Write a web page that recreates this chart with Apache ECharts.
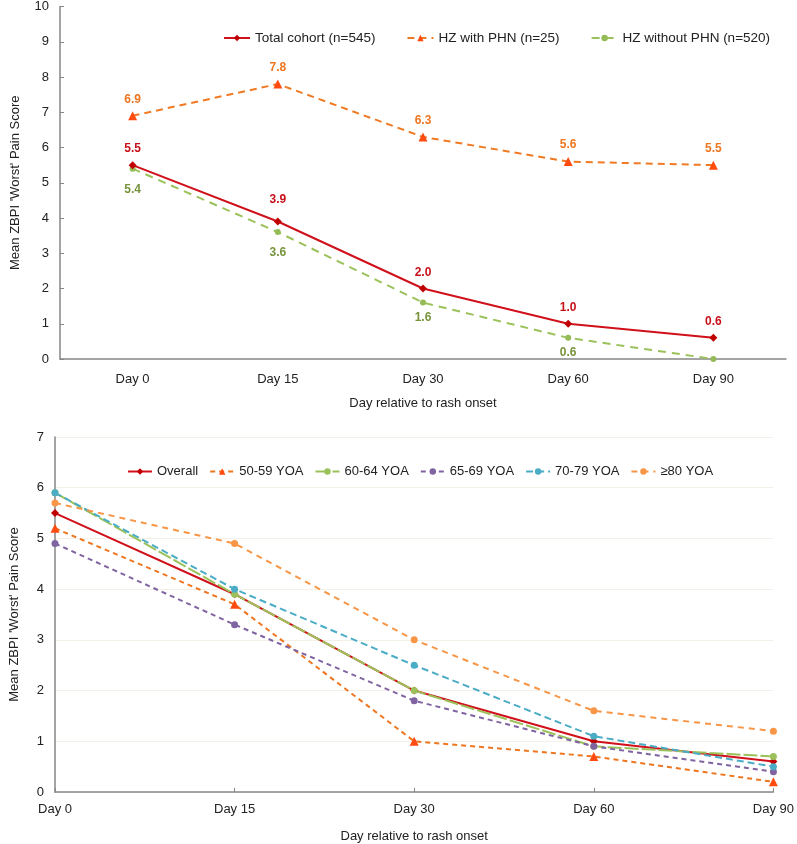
<!DOCTYPE html>
<html>
<head>
<meta charset="utf-8">
<script src="https://cdn.jsdelivr.net/npm/echarts@6/dist/echarts.min.js"></script>
<style>
  html, body { margin: 0; padding: 0; background: #fff; }
  #chart { width: 797px; height: 844px; }
</style>
</head>
<body>
<div id="chart"></div>
<script>
// top panel: by PHN status
const days = ["Day 0", "Day 15", "Day 30", "Day 60", "Day 90"];
const totalCohort = [5.5, 3.9, 2.0, 1.0, 0.6];
const withPHN = [6.9, 7.8, 6.3, 5.6, 5.5];
const withoutPHN = [5.4, 3.6, 1.6, 0.6, 0.0];
const topNames = ["Total cohort (n=545)", "HZ with PHN (n=25)", "HZ without PHN (n=520)"];

// bottom panel: by age group
const ageNames = ["Overall", "50-59 YOA", "60-64 YOA", "65-69 YOA", "70-79 YOA", "≥80 YOA"];
const overall = [5.5, 3.9, 2.0, 1.0, 0.6];
const age5059 = [5.2, 3.7, 1.0, 0.7, 0.2];
const age6064 = [5.9, 3.9, 2.0, 0.9, 0.7];
const age6569 = [4.9, 3.3, 1.8, 0.9, 0.4];
const age7079 = [5.9, 4.0, 2.5, 1.1, 0.5];
const age80 = [5.7, 4.9, 3.0, 1.6, 1.2];

const FONT = "Liberation Sans";
const axisGrey = "#868686";
const gridCol = "#F3F0E8";

function lbl(color, pos) {
  return {
    show: true,
    position: pos,
    color: color,
    fontWeight: "bold",
    fontSize: 12,
    fontFamily: FONT,
    distance: 6,
    formatter: function (p) {
      if (p.value === 0) return "";
      return p.value.toFixed(1);
    },
  };
}

// some labels sit a bit further from their point
function pushed(values, idx, dist) {
  return values.map(function (v, i) {
    if (idx.indexOf(i) < 0) return v;
    return { value: v, label: { distance: dist } };
  });
}

function ageLine(name, data, color, dash, symbol, symColor, size) {
  return {
    name: name,
    type: "line",
    xAxisIndex: 1,
    yAxisIndex: 1,
    data: data,
    symbol: symbol,
    symbolSize: size,
    showSymbol: true,
    lineStyle: { color: color, width: 2, type: dash },
    itemStyle: { color: symColor || color },
    z: 3,
  };
}

const myChart = echarts.init(document.getElementById("chart"));

const option = {
  animation: false,
  textStyle: { fontFamily: FONT },
  legend: [
    {
      data: topNames,
      left: 218,
      top: 26,
      itemWidth: 26,
      itemHeight: 8,
      itemGap: 31,
      textStyle: { fontSize: 13.5, color: "#222", fontFamily: FONT },
    },
    {
      data: ageNames,
      left: 122,
      top: 460,
      itemWidth: 24,
      itemHeight: 8,
      itemGap: 11,
      textStyle: { fontSize: 13, color: "#222", fontFamily: FONT },
    },
  ],
  grid: [
    { left: 60, top: 5, right: 11, height: 354 },
    { left: 53, top: 437, right: 21, height: 356 },
  ],
  xAxis: [
    {
      gridIndex: 0,
      type: "category",
      data: days,
      boundaryGap: true,
      name: "Day relative to rash onset",
      nameLocation: "middle",
      nameGap: 38,
      nameTextStyle: { fontSize: 13, color: "#222" },
      axisLine: { lineStyle: { color: axisGrey, width: 1.5 } },
      axisTick: { alignWithLabel: true, length: 4, lineStyle: { color: axisGrey } },
      axisLabel: { fontSize: 13, color: "#222", margin: 14 },
    },
    {
      gridIndex: 1,
      type: "category",
      data: days,
      boundaryGap: false,
      name: "Day relative to rash onset",
      nameLocation: "middle",
      nameGap: 38,
      nameTextStyle: { fontSize: 13, color: "#222" },
      axisLine: { lineStyle: { color: axisGrey, width: 1.5 } },
      axisTick: { length: 4, inside: true, lineStyle: { color: axisGrey } },
      axisLabel: { fontSize: 13, color: "#222", margin: 11 },
    },
  ],
  yAxis: [
    {
      gridIndex: 0,
      type: "value",
      min: 0,
      max: 10,
      interval: 1,
      name: "Mean ZBPI 'Worst' Pain Score",
      nameLocation: "middle",
      nameGap: 38,
      nameTextStyle: { fontSize: 13, color: "#222" },
      axisLine: { show: true, lineStyle: { color: axisGrey, width: 1.5 } },
      axisTick: { show: true, inside: true, length: 4, lineStyle: { color: axisGrey } },
      axisLabel: { fontSize: 13, color: "#222", margin: 11 },
      splitLine: { show: false },
    },
    {
      gridIndex: 1,
      type: "value",
      min: 0,
      max: 7,
      interval: 1,
      name: "Mean ZBPI 'Worst' Pain Score",
      nameLocation: "middle",
      nameGap: 34,
      nameTextStyle: { fontSize: 13, color: "#222" },
      axisLine: { show: true, lineStyle: { color: axisGrey, width: 1.5 } },
      axisTick: { show: false },
      axisLabel: { fontSize: 13, color: "#222", margin: 11 },
      splitLine: { show: true, lineStyle: { color: gridCol, width: 1 } },
    },
  ],
  series: [
    {
      name: topNames[0],
      type: "line",
      data: pushed(totalCohort, [1], 12),
      symbol: "diamond",
      symbolSize: 8,
      lineStyle: { color: "#D0101A", width: 2 },
      itemStyle: { color: "#C00000" },
      label: lbl("#C8101A", "top"),
      z: 4,
    },
    {
      name: topNames[1],
      type: "line",
      data: withPHN,
      symbol: "triangle",
      symbolSize: 9,
      lineStyle: { color: "#F07A24", width: 2, type: [7, 5] },
      itemStyle: { color: "#FF4A10" },
      label: lbl("#EE7620", "top"),
      z: 3,
    },
    {
      name: topNames[2],
      type: "line",
      data: pushed(withoutPHN, [0, 1], 12),
      symbol: "circle",
      symbolSize: 6,
      lineStyle: { color: "#9BC25A", width: 2, type: [8, 6] },
      itemStyle: { color: "#94BB55" },
      label: lbl("#77933C", "bottom"),
      z: 3,
    },
    ageLine(ageNames[0], overall, "#D0101A", "solid", "diamond", "#C00000", 8),
    ageLine(ageNames[1], age5059, "#EE7620", [5, 4], "triangle", "#FF4A10", 9),
    ageLine(ageNames[2], age6064, "#9BC25A", [14, 3], "circle", null, 7),
    ageLine(ageNames[3], age6569, "#8064A2", [5, 4], "circle", null, 7),
    ageLine(ageNames[4], age7079, "#4BACC6", [7, 4], "circle", null, 7),
    ageLine(ageNames[5], age80, "#F79646", [6, 5], "circle", null, 7),
  ],
};

myChart.setOption(option);
</script>
</body>
</html>
